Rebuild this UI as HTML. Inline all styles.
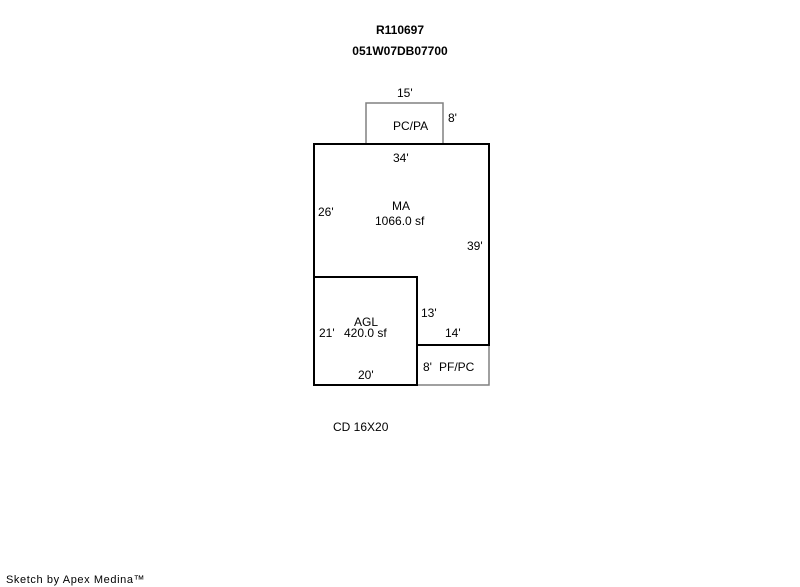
<!DOCTYPE html>
<html><head><meta charset="utf-8"><style>
html,body{margin:0;padding:0;background:#fff;}
svg{display:block;}
text{font-family:"Liberation Sans",Arial,sans-serif;font-size:12px;fill:#000;}
</style></head><body>
<svg width="800" height="587" viewBox="0 0 800 587" xmlns="http://www.w3.org/2000/svg">
<text x="400" y="34" text-anchor="middle" font-weight="bold">R110697</text>
<text x="400" y="55" text-anchor="middle" font-weight="bold">051W07DB07700</text>
<polyline points="366,144 366,103 443,103 443,144" fill="none" stroke="#808080" stroke-width="1.5"/>
<polyline points="417,385 489,385 489,345" fill="none" stroke="#808080" stroke-width="1.5"/>
<polyline points="314,277 314,144 489,144 489,345 417,345" fill="none" stroke="#000" stroke-width="2"/>
<rect x="314" y="277" width="103" height="108" fill="none" stroke="#000" stroke-width="2"/>
<text x="397" y="97">15'</text>
<text x="448" y="122">8'</text>
<text x="393" y="130">PC/PA</text>
<text x="393" y="162">34'</text>
<text x="318" y="216">26'</text>
<text x="392" y="210">MA</text>
<text x="375" y="225">1066.0 sf</text>
<text x="467" y="250">39'</text>
<text x="421" y="317">13'</text>
<text x="445" y="337">14'</text>
<text x="354" y="326">AGL</text>
<text x="319" y="337">21'</text>
<text x="344" y="337">420.0 sf</text>
<text x="358" y="379">20'</text>
<text x="423" y="371">8'</text>
<text x="439" y="371">PF/PC</text>
<text x="333" y="431">CD 16X20</text>
<text x="6" y="583" style="font-size:11px;letter-spacing:0.6px">Sketch by Apex Medina™</text>
</svg>
</body></html>
